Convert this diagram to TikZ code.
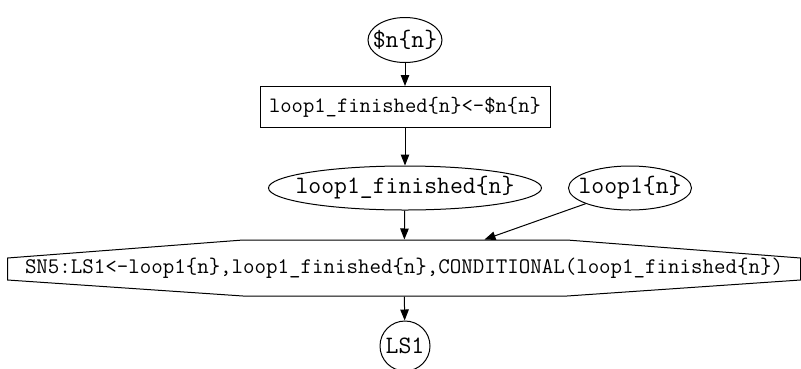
\documentclass[tikz,border=0pt]{standalone}
\usepackage{tikz}
\usetikzlibrary{
	arrows.meta,
	calc,
	shapes.geometric
}
\newcommand{\nlabel}[1]{\makebox[0pt]{#1}}

\begin{document}
\begin{tikzpicture}[x=1pt, y=-1pt, line width=1pt,
		>={Triangle[length=11pt, width=8.5pt]},
		oval/.style={draw, ellipse, inner sep=0pt, font=\ttfamily\fontsize{25}{27}\selectfont},
		assign/.style={draw, rectangle, inner sep=0pt, minimum width=290pt, minimum height=41pt, font=\ttfamily\fontsize{22}{24}\selectfont},
		rule/.style={rectangle, inner sep=0pt, minimum width=792pt, minimum height=56pt, font=\ttfamily\fontsize{22.3}{24}\selectfont}]
		\useasboundingbox (0,0) rectangle (801,368);
		\node[oval, minimum width=74pt, minimum height=45pt] (nn) at (405,40) {\nlabel{\$n\{n\}}};
		\node[assign] (setfin) at (405,107) {loop1\_finished\{n\}<-\$n\{n\}};
		\node[oval, minimum width=273pt, minimum height=44pt] (fin) at (405,188) {\nlabel{loop1\_finished\{n\}}};
		\node[oval, minimum width=123pt, minimum height=44pt] (loop) at (630,188) {\nlabel{loop1\{n\}}};
		\node[rule] (sn5) at (404,268) {SN5:LS1<-loop1\{n\},loop1\_finished\{n\},CONDITIONAL(loop1\_finished\{n\})};
		\draw ($(sn5.west)+(0,-10)$) -- (243,240) -- (567,240) -- ($(sn5.east)+(0,-10)$)
			-- ($(sn5.east)+(0,12)$) -- (567,296) -- (243,296) -- ($(sn5.west)+(0,12)$) -- cycle;
		\node[oval, circle, minimum size=50pt] (ls1) at (405,346) {\nlabel{LS1}};
		\draw[->] (nn) -- (setfin);
		\draw[->] (setfin) -- (fin);
		\draw[->] (fin) -- (sn5);
		\draw[->] (loop) -- (sn5);
		\draw[->] (sn5) -- (ls1);
	\end{tikzpicture}
\end{document}
